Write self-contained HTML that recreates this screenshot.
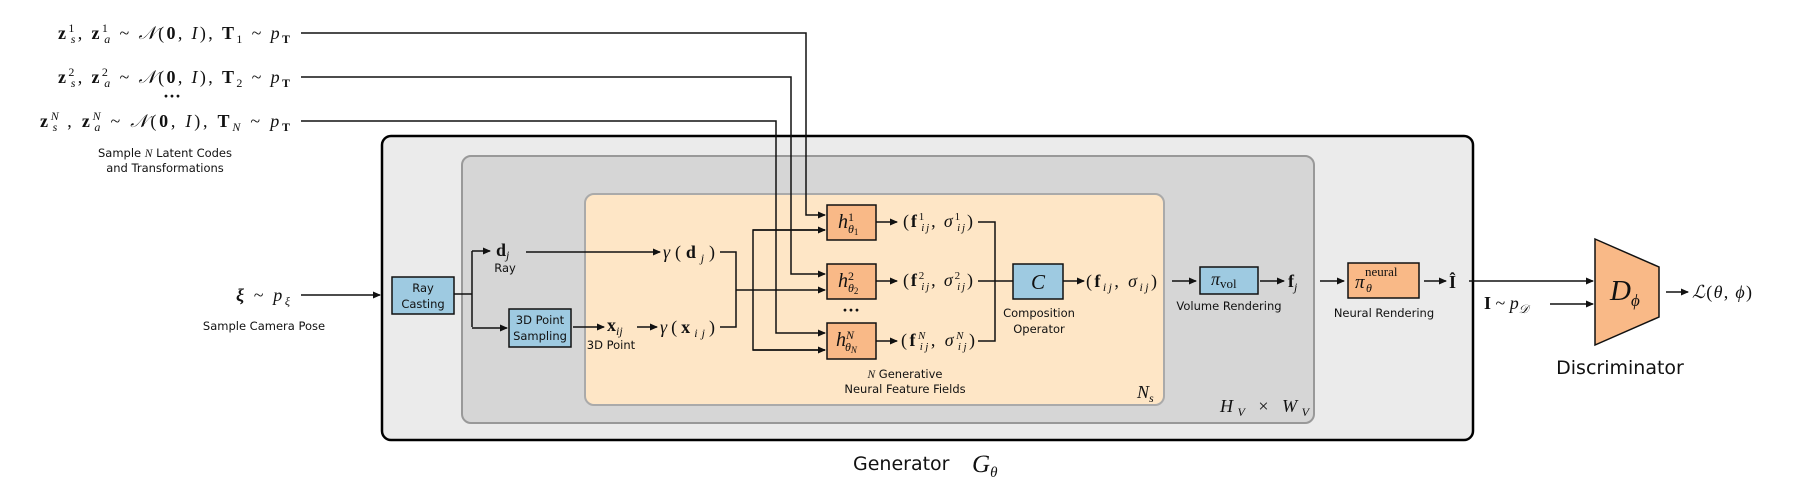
<!DOCTYPE html>
<html><head><meta charset="utf-8"><style>
html,body{margin:0;padding:0;background:#fff;}
svg{display:block;}
.m{font-family:"Liberation Serif",serif;font-size:18px;fill:#111;}
.s{font-family:"DejaVu Sans","Liberation Sans",sans-serif;font-size:11.5px;fill:#111;}
</style></head><body>
<svg width="1793" height="495" viewBox="0 0 1793 495" xmlns="http://www.w3.org/2000/svg">
<defs><marker id="a" markerWidth="8" markerHeight="8" refX="7" refY="4" orient="auto" markerUnits="userSpaceOnUse"><path d="M0,0.5 L8,4 L0,7.5 Z" fill="#111"/></marker></defs>
<rect x="382" y="136" width="1091" height="304" rx="9" fill="#ebebeb" stroke="#000" stroke-width="2.5"/>
<rect x="462" y="156" width="852" height="267" rx="9" fill="#d6d6d6" stroke="#999" stroke-width="2"/>
<rect x="585" y="194" width="579" height="211" rx="9" fill="#fee6c6" stroke="#aaa" stroke-width="2"/>
<g stroke="#111" stroke-width="1.5" fill="none">
<polyline points="301,33 806,33 806,215 825,215" marker-end="url(#a)"/>
<polyline points="301,77 791,77 791,274 825,274" marker-end="url(#a)"/>
<polyline points="301,121 776,121 776,333 825,333" marker-end="url(#a)"/>
<line x1="301" y1="295" x2="380" y2="295" marker-end="url(#a)"/>
<polyline points="454,294 472,294"/>
<polyline points="472,251 472,327"/>
<line x1="472" y1="251" x2="490" y2="251" marker-end="url(#a)"/>
<line x1="472" y1="328" x2="507" y2="328" marker-end="url(#a)"/>
<line x1="526" y1="252" x2="660" y2="252" marker-end="url(#a)"/>
<line x1="573" y1="327" x2="604" y2="327" marker-end="url(#a)"/>
<line x1="637" y1="327" x2="657" y2="327" marker-end="url(#a)"/>
<polyline points="720,252 736,252 736,327 720,327"/>
<line x1="736" y1="290" x2="825" y2="290" marker-end="url(#a)"/>
<polyline points="825,230 753,230 753,350 825,350"/>
<line x1="753" y1="230" x2="825" y2="230" marker-end="url(#a)"/>
<line x1="753" y1="350" x2="825" y2="350" marker-end="url(#a)"/>
<line x1="876" y1="222" x2="897" y2="222" marker-end="url(#a)"/>
<line x1="876" y1="281" x2="897" y2="281" marker-end="url(#a)"/>
<line x1="876" y1="341" x2="897" y2="341" marker-end="url(#a)"/>
<polyline points="978,222 995,222 995,341 978,341"/>
<line x1="978" y1="281" x2="1013" y2="281"/>
<line x1="1063" y1="281" x2="1084" y2="281" marker-end="url(#a)"/>
<line x1="1172" y1="281" x2="1196" y2="281" marker-end="url(#a)"/>
<line x1="1260" y1="281" x2="1284" y2="281" marker-end="url(#a)"/>
<line x1="1320" y1="281" x2="1344" y2="281" marker-end="url(#a)"/>
<line x1="1424" y1="281" x2="1446" y2="281" marker-end="url(#a)"/>
<line x1="1469" y1="281" x2="1593" y2="281" marker-end="url(#a)"/>
<line x1="1550" y1="304" x2="1593" y2="304" marker-end="url(#a)"/>
<line x1="1666" y1="292" x2="1688" y2="292" marker-end="url(#a)"/>
</g>
<g stroke="#111" stroke-width="1.5">
<rect x="392" y="277" width="62" height="37" fill="#9ecae1"/>
<rect x="509" y="309" width="62" height="38" fill="#9ecae1"/>
<rect x="827" y="205" width="49" height="35" fill="#f9b987"/>
<rect x="827" y="264" width="49" height="35" fill="#f9b987"/>
<rect x="827" y="323" width="49" height="36" fill="#f9b987"/>
<rect x="1013" y="264" width="50" height="35" fill="#9ecae1"/>
<rect x="1200" y="267" width="58" height="27" fill="#9ecae1"/>
<rect x="1348" y="263" width="71" height="35" fill="#f9b987"/>
<polygon points="1595,239 1659,267 1659,317 1595,345" fill="#f9b987"/>
</g>
<g class="m" font-size="19">
<text x="58" y="39" textLength="232" lengthAdjust="spacing"><tspan font-weight="bold">z</tspan><tspan font-size="12" dy="-7">1</tspan><tspan font-size="12" font-style="italic" dx="-6" dy="11">s</tspan><tspan dy="-4">, </tspan><tspan font-weight="bold">z</tspan><tspan font-size="12" dy="-7">1</tspan><tspan font-size="12" font-style="italic" dx="-6" dy="11">a</tspan><tspan dy="-4"> ~ </tspan><tspan font-style="italic">𝒩</tspan>(<tspan font-weight="bold">0</tspan>, <tspan font-style="italic">I</tspan>), <tspan font-weight="bold">T</tspan><tspan font-size="12" dy="4">1</tspan><tspan dy="-4"> ~ </tspan><tspan font-style="italic">p</tspan><tspan font-size="12" font-weight="bold" dy="4">T</tspan></text>
<text x="58" y="83" textLength="232" lengthAdjust="spacing"><tspan font-weight="bold">z</tspan><tspan font-size="12" dy="-7">2</tspan><tspan font-size="12" font-style="italic" dx="-6" dy="11">s</tspan><tspan dy="-4">, </tspan><tspan font-weight="bold">z</tspan><tspan font-size="12" dy="-7">2</tspan><tspan font-size="12" font-style="italic" dx="-6" dy="11">a</tspan><tspan dy="-4"> ~ </tspan><tspan font-style="italic">𝒩</tspan>(<tspan font-weight="bold">0</tspan>, <tspan font-style="italic">I</tspan>), <tspan font-weight="bold">T</tspan><tspan font-size="12" dy="4">2</tspan><tspan dy="-4"> ~ </tspan><tspan font-style="italic">p</tspan><tspan font-size="12" font-weight="bold" dy="4">T</tspan></text>
<text x="40" y="127" textLength="250" lengthAdjust="spacing"><tspan font-weight="bold">z</tspan><tspan font-size="12" font-style="italic" dy="-7">N</tspan><tspan font-size="12" font-style="italic" dx="-9" dy="11">s</tspan><tspan dy="-4">  , </tspan><tspan font-weight="bold">z</tspan><tspan font-size="12" font-style="italic" dy="-7">N</tspan><tspan font-size="12" font-style="italic" dx="-9" dy="11">a</tspan><tspan dy="-4">  ~ </tspan><tspan font-style="italic">𝒩</tspan>(<tspan font-weight="bold">0</tspan>, <tspan font-style="italic">I</tspan>), <tspan font-weight="bold">T</tspan><tspan font-size="12" font-style="italic" dy="4">N</tspan><tspan dy="-4"> ~ </tspan><tspan font-style="italic">p</tspan><tspan font-size="12" font-weight="bold" dy="4">T</tspan></text>
<text x="236" y="301" textLength="54" lengthAdjust="spacing"><tspan font-weight="bold" font-style="italic">ξ</tspan> ~ <tspan font-style="italic">p</tspan><tspan font-size="12" font-style="italic" dy="4">ξ</tspan></text>
</g>
<text class="m" x="172" y="102" text-anchor="middle" font-weight="bold">···</text>
<text class="m" x="851" y="316" text-anchor="middle" font-weight="bold">···</text>
<g class="s" text-anchor="middle">
<text x="165" y="157">Sample <tspan font-family="Liberation Serif" font-style="italic">N</tspan> Latent Codes</text>
<text x="165" y="172">and Transformations</text>
<text x="264" y="330">Sample Camera Pose</text>
<text x="423" y="292">Ray</text><text x="423" y="308">Casting</text>
<text x="540" y="324">3D Point</text><text x="540" y="340">Sampling</text>
<text x="505" y="272">Ray</text>
<text x="611" y="349">3D Point</text>
<text x="905" y="378"><tspan font-family="Liberation Serif" font-style="italic">N</tspan> Generative</text>
<text x="905" y="393">Neural Feature Fields</text>
<text x="1039" y="317">Composition</text><text x="1039" y="333">Operator</text>
<text x="1229" y="310">Volume Rendering</text>
<text x="1384" y="317">Neural Rendering</text>
</g>
<g class="m">
<text x="496" y="256"><tspan font-weight="bold">d</tspan><tspan font-size="12" font-style="italic" dy="3">j</tspan></text>
<text x="663" y="258" textLength="52" lengthAdjust="spacing"><tspan font-style="italic">γ</tspan>(<tspan font-weight="bold">d</tspan><tspan font-size="12" font-style="italic" dy="4">j</tspan><tspan dy="-4">)</tspan></text>
<text x="607" y="331"><tspan font-weight="bold">x</tspan><tspan font-size="12" font-style="italic" dy="4">ij</tspan></text>
<text x="660" y="333" textLength="55" lengthAdjust="spacing"><tspan font-style="italic">γ</tspan>(<tspan font-weight="bold">x</tspan><tspan font-size="12" font-style="italic" dy="4">ij</tspan><tspan dy="-4">)</tspan></text>
<text x="838" y="228" font-style="italic" font-size="20">h<tspan font-size="12" font-style="normal" dy="-7">1</tspan><tspan font-size="12" dx="-6" dy="12">θ</tspan><tspan font-size="9" font-style="normal" dy="2">1</tspan></text>
<text x="838" y="287" font-style="italic" font-size="20">h<tspan font-size="12" font-style="normal" dy="-7">2</tspan><tspan font-size="12" dx="-6" dy="12">θ</tspan><tspan font-size="9" font-style="normal" dy="2">2</tspan></text>
<text x="836" y="346" font-style="italic" font-size="20">h<tspan font-size="12" dy="-7">N</tspan><tspan font-size="12" dx="-9" dy="12">θ</tspan><tspan font-size="9" dy="2">N</tspan></text>
<text x="903" y="227" textLength="70" lengthAdjust="spacing">(<tspan font-weight="bold">f</tspan><tspan font-size="11" dy="-7">1</tspan><tspan font-size="11" font-style="italic" dx="-5" dy="11">ij</tspan><tspan dy="-4">, </tspan><tspan font-style="italic">σ</tspan><tspan font-size="11" dy="-7">1</tspan><tspan font-size="11" font-style="italic" dx="-5" dy="11">ij</tspan><tspan dy="-4">)</tspan></text>
<text x="903" y="286" textLength="70" lengthAdjust="spacing">(<tspan font-weight="bold">f</tspan><tspan font-size="11" dy="-7">2</tspan><tspan font-size="11" font-style="italic" dx="-5" dy="11">ij</tspan><tspan dy="-4">, </tspan><tspan font-style="italic">σ</tspan><tspan font-size="11" dy="-7">2</tspan><tspan font-size="11" font-style="italic" dx="-5" dy="11">ij</tspan><tspan dy="-4">)</tspan></text>
<text x="901" y="346" textLength="74" lengthAdjust="spacing">(<tspan font-weight="bold">f</tspan><tspan font-size="11" font-style="italic" dy="-7">N</tspan><tspan font-size="11" font-style="italic" dx="-8" dy="11">ij</tspan><tspan dy="-4">, </tspan><tspan font-style="italic">σ</tspan><tspan font-size="11" font-style="italic" dy="-7">N</tspan><tspan font-size="11" font-style="italic" dx="-8" dy="11">ij</tspan><tspan dy="-4">)</tspan></text>
<text x="1038" y="289" text-anchor="middle" font-style="italic" font-size="21">C</text>
<text x="1086" y="287" textLength="71" lengthAdjust="spacing">(<tspan font-weight="bold">f</tspan><tspan font-size="12" font-style="italic" dy="4">ij</tspan><tspan dy="-4">, </tspan><tspan font-style="italic">σ</tspan><tspan font-size="12" font-style="italic" dy="4">ij</tspan><tspan dy="-4">)</tspan></text>
<text x="1211" y="285" font-style="italic">π<tspan font-style="normal" font-size="13" dy="3">vol</tspan></text>
<text x="1288" y="287"><tspan font-weight="bold">f</tspan><tspan font-size="12" font-style="italic" dy="4">j</tspan></text>
<text x="1355" y="288" font-style="italic" font-size="19">π</text>
<text x="1365" y="276" font-size="13">neural</text>
<text x="1366" y="292" font-size="12" font-style="italic">θ</text>
<text x="1449" y="288" font-weight="bold">Î</text>
<text x="1484" y="309"><tspan font-weight="bold">I</tspan> ~ <tspan font-style="italic">p</tspan><tspan font-size="12" font-style="italic" dy="4">𝒟</tspan></text>
<text x="1610" y="300" font-style="italic" font-size="29">D<tspan font-size="17" dy="6">ϕ</tspan></text>
<text x="1692" y="298" font-style="italic" textLength="60" lengthAdjust="spacing">ℒ<tspan font-style="normal">(</tspan>θ<tspan font-style="normal">, </tspan>ϕ<tspan font-style="normal">)</tspan></text>
<text x="1137" y="398" font-style="italic">N<tspan font-size="12" dy="4">s</tspan></text>
<text x="1220" y="412" font-style="italic" textLength="89" lengthAdjust="spacing">H<tspan font-size="12" dy="4">V</tspan><tspan font-style="normal" dy="-4"> × </tspan>W<tspan font-size="12" dy="4">V</tspan></text>
</g>
<text x="1620" y="374" text-anchor="middle" font-family="DejaVu Sans,Liberation Sans,sans-serif" font-size="19" fill="#111">Discriminator</text>
<text x="853" y="470" font-family="DejaVu Sans,Liberation Sans,sans-serif" font-size="19" fill="#111">Generator</text>
<text x="972" y="472" font-family="Liberation Serif,serif" font-style="italic" font-size="25" fill="#111">G<tspan font-size="15" dy="5">θ</tspan></text>
</svg>
</body></html>
